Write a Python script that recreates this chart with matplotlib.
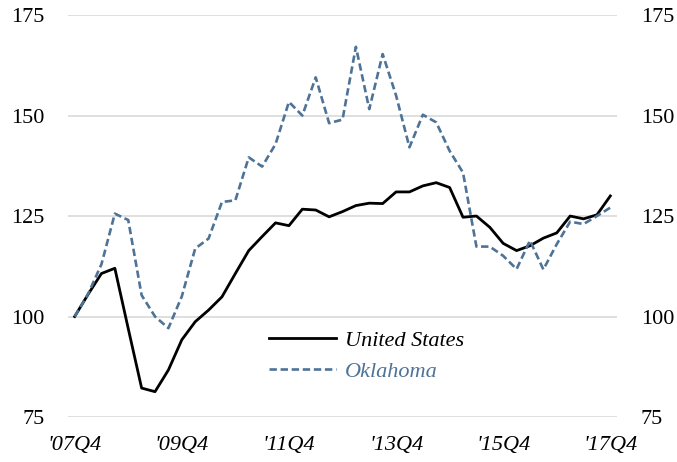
import matplotlib.pyplot as plt

# quarterly index, 2007Q4 = 100
quarters = ["'%02dQ%d" % ((2007 + (i + 3) // 4) % 100, (i + 3) % 4 + 1) for i in range(41)]

us = [100, 105.5, 110.7, 112, 97, 82.2, 81.3, 86.7, 94.2, 98.7,
      101.6, 104.9, 110.7, 116.4, 119.9, 123.3, 122.6, 126.7, 126.5, 124.8,
      126.1, 127.6, 128.2, 128.1, 131, 131, 132.5, 133.3, 132.1, 124.7,
      125, 122.2, 118.2, 116.4, 117.6, 119.5, 120.8, 125, 124.3, 125.3,
      130]

oklahoma = [100, 105.6, 113, 125.6, 124, 105.3, 100, 97.1, 105, 116.9,
            119.4, 128.5, 128.9, 139.6, 137.3, 142.9, 153.4, 150, 159.5, 148.1,
            149, 167.1, 151.6, 165.3, 155, 142.1, 150.2, 148.3, 141.2, 135.8,
            117.4, 117.4, 115.1, 111.8, 118.9, 111.7, 118, 123.6, 123, 125,
            127.1]

y_ticks = [75, 100, 125, 150, 175]
x_ticks = [0, 8, 16, 24, 32, 40]

blue = '#4e7397'
plt.rcParams['font.family'] = 'Liberation Serif'

fig = plt.figure(figsize=(6.77, 4.62), dpi=100)
ax = fig.add_axes([0.1004, 0.0974, 0.811, 0.870])

x = list(range(len(us)))
ax.plot(x, us, c='black', lw=2.0, label='United States')
ax.plot(x, oklahoma, c=blue, lw=1.9, dashes=(2.8, 1.4), label='Oklahoma')

ax.set_xlim(-0.5, 40.5)
ax.set_ylim(75, 175)
ax.set_yticks(y_ticks)
ax.set_xticks(x_ticks)
ax.set_xticklabels([quarters[i] for i in x_ticks], fontstyle='italic', fontsize=16)
ax.grid(axis='y', color='#d9d9d9', lw=1.2)
ax.set_axisbelow(True)
for s in ax.spines.values():
    s.set_visible(False)
ax.tick_params(axis='y', length=0, labelsize=16, pad=17,
               labelleft=True, labelright=True)
ax.tick_params(axis='x', length=0, pad=14)

leg = ax.legend(loc='upper left', bbox_to_anchor=(0.33, 0.265), frameon=False,
                prop={'style': 'italic', 'size': 16}, handlelength=3.0,
                handletextpad=0.4, labelspacing=0.45)
leg.get_texts()[1].set_color(blue)

fig.savefig('out.png', dpi=100)
